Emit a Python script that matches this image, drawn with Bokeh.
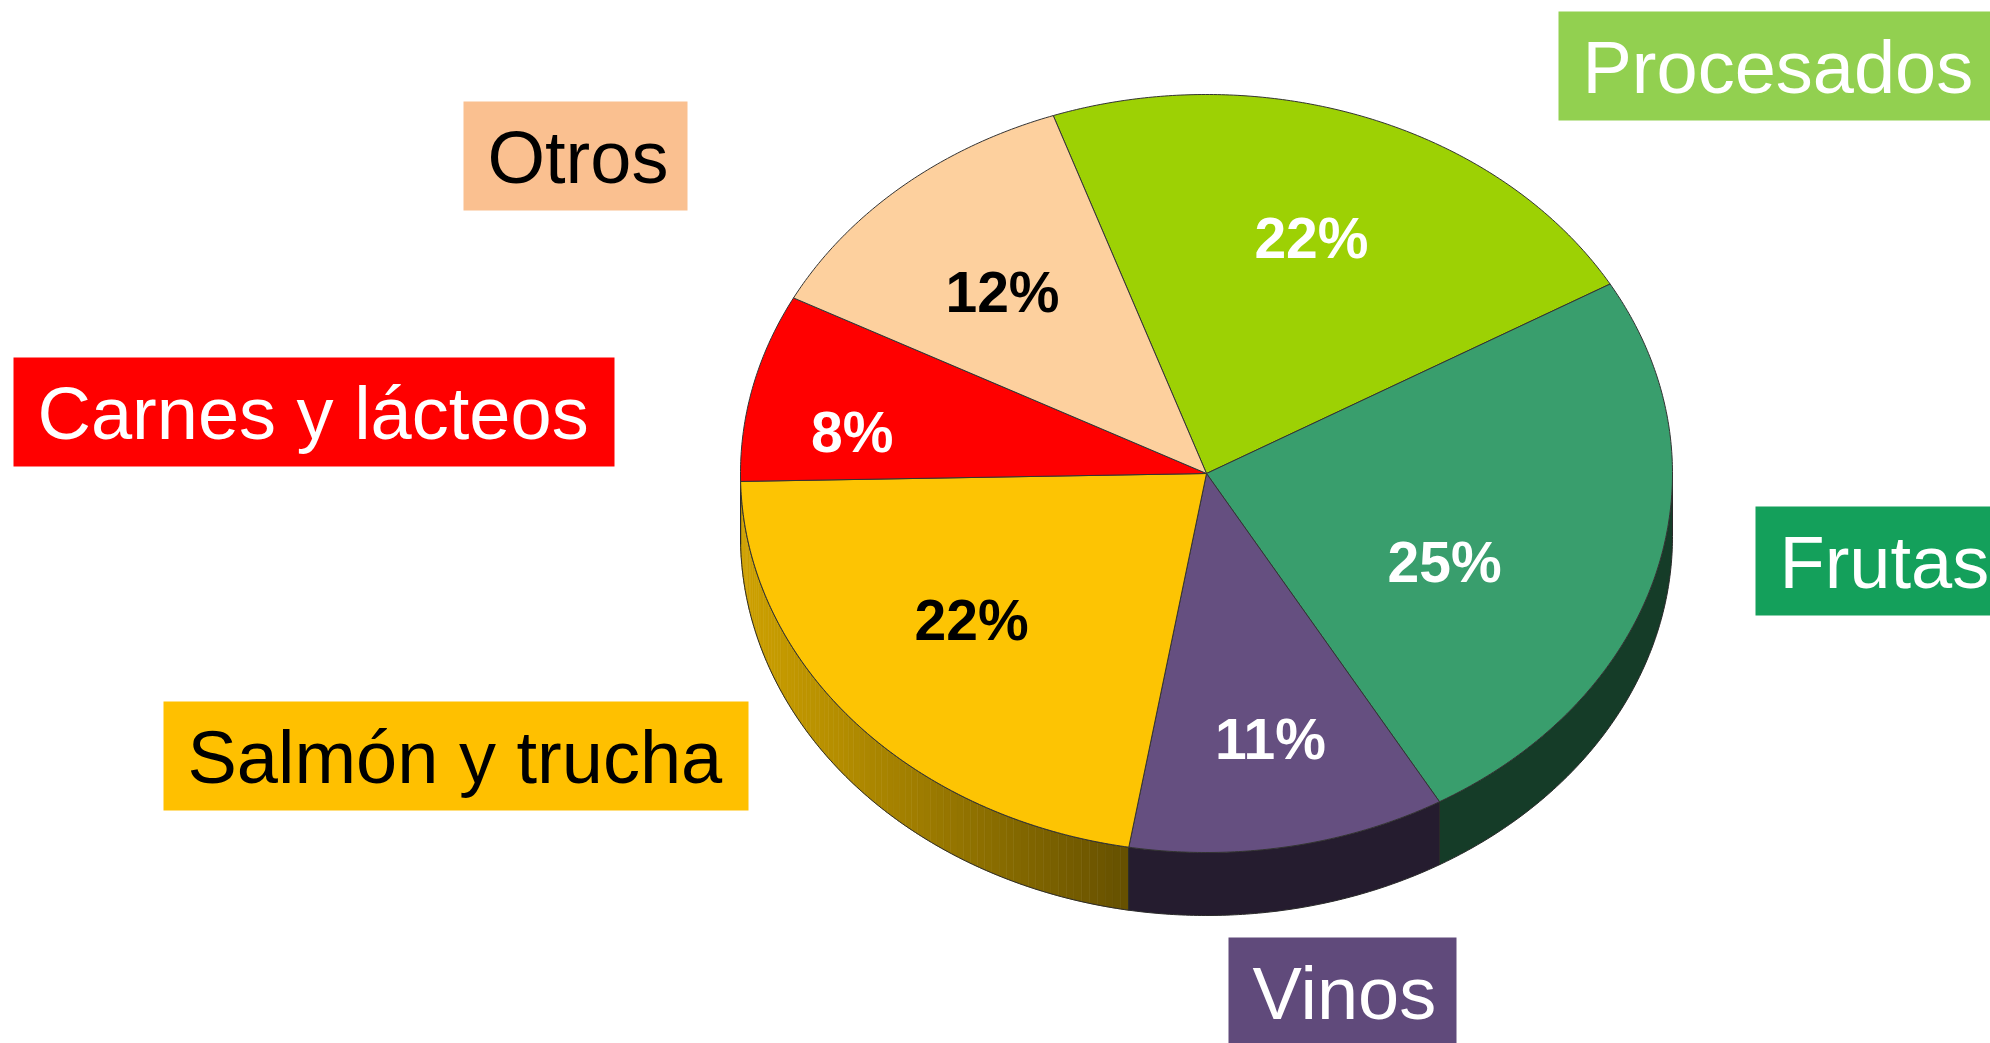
import numpy as np
from bokeh.plotting import figure
from bokeh.models import Range1d, ColumnDataSource
from bokeh.core.properties import value
from bokeh.embed import file_html
from bokeh.resources import INLINE

# ---------------- data ----------------
categories = ["Procesados", "Frutas", "Vinos", "Salmón y trucha", "Carnes y lácteos", "Otros"]
shares = [22, 25, 11, 22, 8, 12]
pct_text = ["22%", "25%", "11%", "22%", "8%", "12%"]

# ---------------- styles ----------------
top_colors = ["#9dd104", "#399e6d", "#654f80", "#fdc403", "#ff0000", "#fdd09e"]
side_colors = ["#4f6802", "#153c28", "#251c2f", None, "#7a0000", "#7e6850"]
grad_left, grad_right = "#cfa200", "#655000"
pct_colors = ["white", "white", "white", "black", "white", "black"]
box_colors = ["#92d050", "#14a05b", "#604a7b", "#ffc000", "#ff0000", "#fac090"]
box_text_colors = ["white", "white", "white", "black", "white", "black"]

# ---------------- layout ----------------
W, H = 1990, 1043
CX, CY, RX, RY, DEPTH = 1206, 473, 466, 379, 63
START = 109.2
# relative label placement inside each slice (x and y fraction of the radii)
label_fx = [0.646, 0.529, 0.776, 0.666, 0.781, 0.670]
label_fy = [0.664, 0.907, 0.713, 0.590, 0.480, 0.634]
box_left = [1558, 1755, 1228, 163, 13, 463]
box_right = [1990, 1990, 1456, 748, 614, 687]
box_top = [11, 506, 937, 701, 357, 101]
BOX_H = 109
PAD_X = 24


def hex2rgb(h):
    h = h.lstrip("#")
    return [int(h[i:i + 2], 16) for i in (0, 2, 4)]


def rgb2hex(c):
    return "#%02x%02x%02x" % tuple(int(round(v)) for v in c)


def arc(t0, t1, per_deg=2):
    n = max(2, int(abs(t1 - t0) * per_deg) + 1)
    t = np.radians(np.linspace(t0, t1, n))
    return CX + RX * np.cos(t), CY - RY * np.sin(t)


cum = np.concatenate([[0], np.cumsum(shares)])
total = cum[-1]
t_starts = START - 360.0 * cum[:-1] / total
t_ends = START - 360.0 * cum[1:] / total

p = figure(width=W, height=H, output_backend="svg", toolbar_location=None,
           x_range=Range1d(0, W), y_range=Range1d(H, 0), min_border=0)
p.axis.visible = False
p.grid.visible = False
p.outline_line_color = None
p.background_fill_color = "white"
p.border_fill_color = "white"

# ---------------- side walls ----------------
side_xs, side_ys, side_fill = [], [], []
grad_xs, grad_ys, grad_fill = [], [], []
outline_xs, outline_ys = [], []
for i in range(len(shares)):
    hi = min(t_starts[i], 0.0)
    lo = max(t_ends[i], -180.0)
    if hi <= lo:
        continue
    ax, ay = arc(hi, lo)
    xs = list(ax) + list(ax[::-1])
    ys = list(ay) + list((ay + DEPTH)[::-1])
    outline_xs.append(xs)
    outline_ys.append(ys)
    if side_colors[i] is None:
        x_left = CX + RX * np.cos(np.radians(-180.0))
        x_right = CX + RX * np.cos(np.radians(hi))
        cl, cr = np.array(hex2rgb(grad_left)), np.array(hex2rgb(grad_right))
        edges = np.linspace(hi, lo, int(abs(hi - lo)) + 2)
        for a, b in zip(edges[:-1], edges[1:]):
            sx, sy = arc(a, b, per_deg=4)
            frac = (np.mean(sx) - x_left) / (x_right - x_left)
            frac = min(max(frac, 0.0), 1.0)
            grad_xs.append(list(sx) + list(sx[::-1]) + [sx[0]])
            grad_ys.append(list(sy) + list((sy + DEPTH)[::-1]) + [sy[0]])
            grad_fill.append(rgb2hex(cl + (cr - cl) * frac))
    else:
        side_xs.append(xs)
        side_ys.append(ys)
        side_fill.append(side_colors[i])

p.patches(xs=grad_xs, ys=grad_ys, fill_color=grad_fill, line_color=grad_fill, line_width=0.6)
p.patches(xs=side_xs, ys=side_ys, fill_color=side_fill, line_color=None)
p.patches(xs=outline_xs, ys=outline_ys, fill_color=None, line_color="#2a2a2a", line_width=1)

# ---------------- top faces ----------------
top_xs, top_ys = [], []
for i in range(len(shares)):
    ax, ay = arc(t_starts[i], t_ends[i])
    top_xs.append([CX] + list(ax))
    top_ys.append([CY] + list(ay))
p.patches(xs=top_xs, ys=top_ys, fill_color=top_colors, line_color="#333333", line_width=1)

# ---------------- percentage labels ----------------
mids = np.radians((t_starts + t_ends) / 2.0)
lx = CX + np.array(label_fx) * RX * np.cos(mids)
ly = CY - np.array(label_fy) * RY * np.sin(mids)
pct_src = ColumnDataSource(dict(x=lx, y=ly, text=pct_text, color=pct_colors))
p.text(x="x", y="y", text="text", source=pct_src, text_color="color",
       text_font=value("Liberation Sans"), text_font_style="bold",
       text_font_size=value("57px"), text_align="center", text_baseline="middle")

# ---------------- category boxes ----------------
bl = np.array(box_left)
br = np.array(box_right)
bt = np.array(box_top)
bb = bt + BOX_H
box_src = ColumnDataSource(dict(left=bl, right=br, top=bt, bottom=bb, color=box_colors,
                                tx=bl + PAD_X, ty=bt + BOX_H / 2.0 + 1, text=categories,
                                tcolor=box_text_colors))
p.quad(left="left", right="right", top="top", bottom="bottom", source=box_src,
       fill_color="color", line_color=None)
p.text(x="tx", y="ty", text="text", source=box_src, text_color="tcolor",
       text_font=value("Liberation Sans"), text_font_size=value("74px"),
       text_align="left", text_baseline="middle")

open("out.html", "w").write(file_html(p, INLINE))
